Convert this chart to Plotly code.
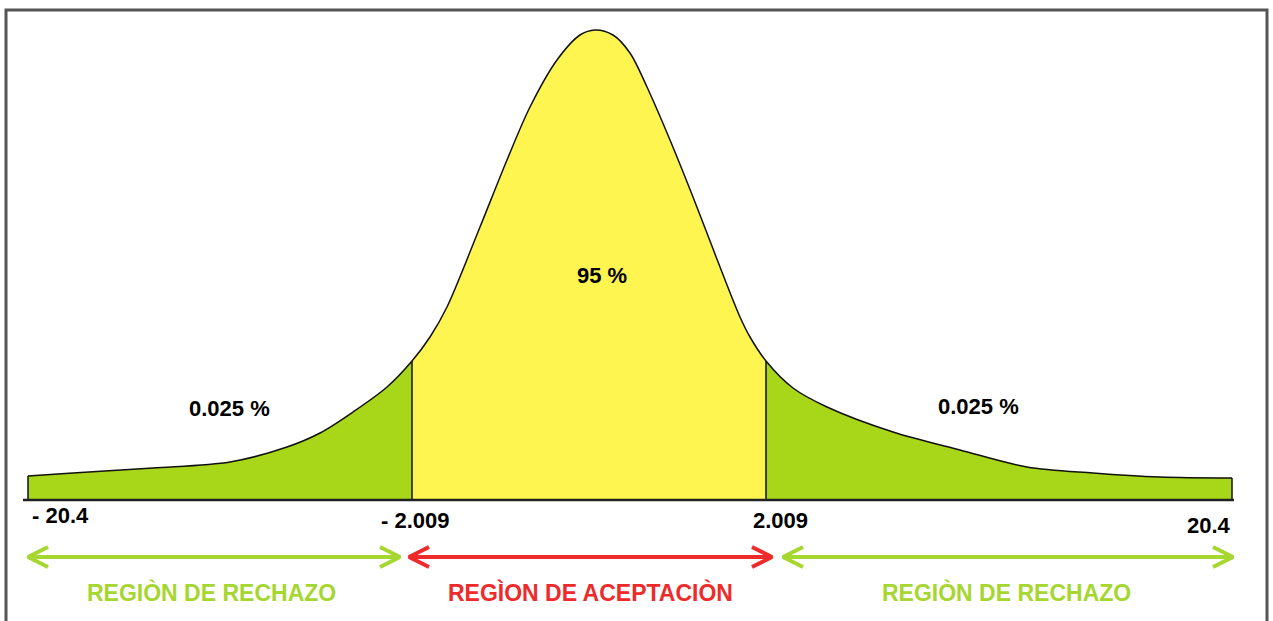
import plotly.graph_objects as go

# Curve: horizontal position (px-like units) and height above baseline
curve_x = [28, 73, 153, 230, 287, 320, 353, 387, 412, 430, 447, 480, 507, 530, 557, 580, 595,
           613, 630, 647, 670, 693, 720, 740, 750, 766, 793, 827, 893, 960, 1027, 1093, 1160, 1232]
curve_h = [24, 27, 32, 38, 53, 67, 88, 113, 139, 163, 193, 273, 340, 393, 440, 465, 470,
           465, 447, 413, 360, 303, 233, 183, 163, 139, 112, 93, 68, 50, 33, 27, 23, 22]

crit_low, crit_high = 412, 766        # positions of -2.009 and 2.009
tick_labels = ["- 20.4", "- 2.009", "2.009", "20.4"]
area_labels = ["0.025 %", "95 %", "0.025 %"]
region_labels = ["REGIÒN DE RECHAZO", "REGÌON DE ACEPTACIÒN", "REGIÒN DE RECHAZO"]

GREEN_FILL = "#A8D71A"
YELLOW = "#FFF550"
GREEN = "#A6D630"
RED = "#EE2A2A"
FONT = "Liberation Sans"

def seg(lo, hi):
    xs = [x for x in curve_x if lo <= x <= hi]
    hs = [h for x, h in zip(curve_x, curve_h) if lo <= x <= hi]
    return xs, hs

fig = go.Figure()
for (lo, hi), col in [((curve_x[0], crit_low), GREEN_FILL),
                      ((crit_low, crit_high), YELLOW),
                      ((crit_high, curve_x[-1]), GREEN_FILL)]:
    xs, hs = seg(lo, hi)
    fig.add_trace(go.Scatter(x=xs, y=hs, mode="lines", fill="tozeroy", fillcolor=col,
                             line=dict(width=0, shape="spline", smoothing=0.9),
                             hoverinfo="skip", showlegend=False))

# outline of the curve
fig.add_trace(go.Scatter(x=curve_x, y=curve_h, mode="lines",
                         line=dict(color="#111111", width=1.5, shape="spline", smoothing=0.9),
                         hoverinfo="skip", showlegend=False))
# edges, critical lines and baseline
h_at = dict(zip(curve_x, curve_h))
for xv in [curve_x[0], crit_low, crit_high, curve_x[-1]]:
    fig.add_trace(go.Scatter(x=[xv, xv], y=[0, h_at[xv]], mode="lines",
                             line=dict(color="#111111", width=1.5),
                             hoverinfo="skip", showlegend=False))
fig.add_trace(go.Scatter(x=[curve_x[0] - 5, curve_x[-1] + 2], y=[0, 0], mode="lines",
                         line=dict(color="#222222", width=2.5),
                         hoverinfo="skip", showlegend=False))

# double-headed arrows with open chevron heads
arrow_y = -57
arm_dx, arm_dy = 20, 10
arrows = [(28, 400, GREEN), (409, 772, RED), (783, 1233, GREEN)]
for x0, x1, col in arrows:
    fig.add_trace(go.Scatter(
        x=[x0, x1, None, x0 + arm_dx, x0, x0 + arm_dx, None, x1 - arm_dx, x1, x1 - arm_dx],
        y=[arrow_y, arrow_y, None, arrow_y + arm_dy, arrow_y, arrow_y - arm_dy, None,
           arrow_y + arm_dy, arrow_y, arrow_y - arm_dy],
        mode="lines", line=dict(color=col, width=4), hoverinfo="skip", showlegend=False))

ann = []
tick_pos = [(30, -15, "left"), (415, -20, "center"), (780, -20, "center"), (1209, -25, "center")]
for (x, y, xa), t in zip(tick_pos, tick_labels):
    ann.append(dict(x=x, y=y, text=t, xanchor=xa, yanchor="middle", showarrow=False,
                    font=dict(family=FONT, size=22, color="#000000")))
for (x, y), t in zip([(229, 92), (602, 225), (978, 94)], area_labels):
    ann.append(dict(x=x, y=y, text=t, showarrow=False,
                    font=dict(family=FONT, size=22, color="#000000")))
for (x, col), t in zip([(211, GREEN), (590, RED), (1006, GREEN)], region_labels):
    ann.append(dict(x=x, y=-92, text=t, showarrow=False,
                    font=dict(family=FONT, size=23, color=col)))
for a in ann:
    a["text"] = "<b>" + a["text"] + "</b>"

fig.update_layout(
    width=1273, height=621, margin=dict(l=0, r=0, t=0, b=0),
    paper_bgcolor="white", plot_bgcolor="white",
    xaxis=dict(range=[0, 1273], visible=False, fixedrange=True),
    yaxis=dict(range=[-121, 500], visible=False, fixedrange=True),
    annotations=ann,
    shapes=[dict(type="path", path="M 6,-130 L 6,490 L 1267,490 L 1267,-130",
                 line=dict(color="#555555", width=3), layer="above")],
)
fig.write_html("out.html", config={"displayModeBar": False},
               post_script="document.body.style.margin='0';document.body.style.overflow='hidden';")
